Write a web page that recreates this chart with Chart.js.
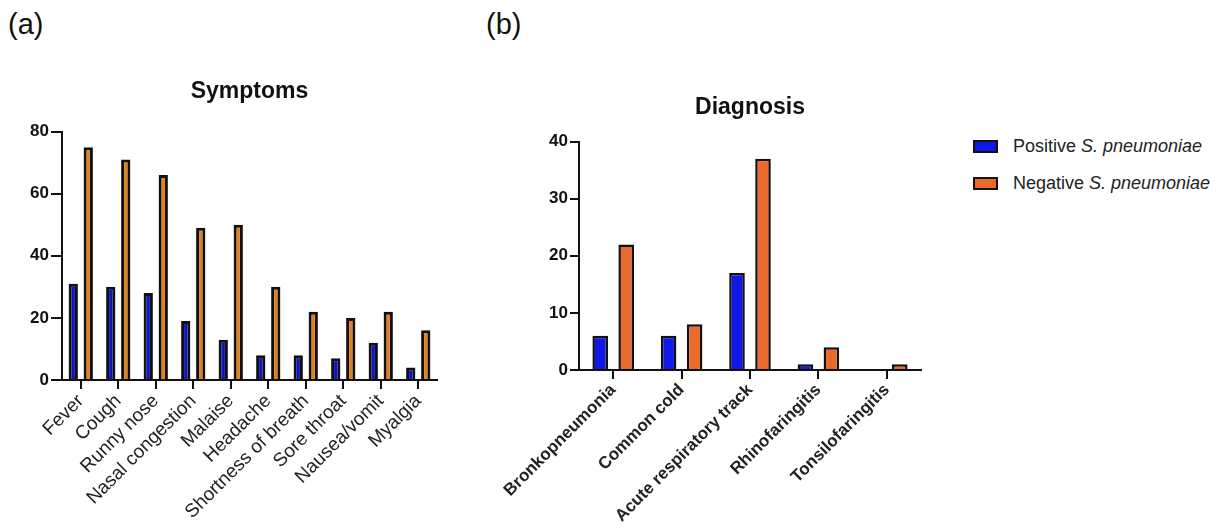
<!DOCTYPE html>
<html>
<head>
<meta charset="utf-8">
<script src="https://cdn.jsdelivr.net/npm/chart.js@4/dist/chart.umd.min.js"></script>
<style>
  body { margin: 0; background: #fff; font-family: "Liberation Sans", Arial, sans-serif; }
  #wrap { position: relative; width: 1228px; height: 528px; }
  .tag { position: absolute; top: 8px; font-size: 29px; color: #111; }
  #c1 { position: absolute; left: 0; top: 0; }
  #c2 { position: absolute; left: 470px; top: 0; }
  #legend { position: absolute; left: 973px; top: 128px; font-size: 18px; color: #222; }
  .row { height: 37px; display: flex; align-items: center; }
  .box { width: 21px; height: 9px; border: 2px solid #111; margin-right: 15px; }
</style>
</head>
<body>
<div id="wrap">
  <div class="tag" style="left:8px">(a)</div>
  <div class="tag" style="left:486px">(b)</div>
  <canvas id="c1" width="470" height="528"></canvas>
  <canvas id="c2" width="470" height="528"></canvas>
  <div id="legend">
    <div class="row"><div class="box" style="background:#1018e6"></div>Positive&nbsp;<i>S. pneumoniae</i></div>
    <div class="row"><div class="box" style="background:#ea6a2c"></div>Negative&nbsp;<i>S. pneumoniae</i></div>
  </div>
</div>
<script>
// symptoms (a)
const symptoms = ["Fever", "Cough", "Runny nose", "Nasal congestion", "Malaise",
  "Headache", "Shortness of breath", "Sore throat", "Nausea/vomit", "Myalgia"];
const sym_pos = [31, 30, 28, 19, 13, 8, 8, 7, 12, 4];
const sym_neg = [75, 71, 66, 49, 50, 30, 22, 20, 22, 16];
const sym_ticks = [0, 20, 40, 60, 80];

// diagnosis (b)
const diagnoses = ["Bronkopneumonia", "Common cold", "Acute respiratory track",
  "Rhinofaringitis", "Tonsilofaringitis"];
const diag_pos = [6, 6, 17, 1, 0];
const diag_neg = [22, 8, 37, 4, 1];
const diag_ticks = [0, 10, 20, 30, 40];

const font = "'Liberation Sans', Arial, sans-serif";
Chart.defaults.font.family = font;
Chart.defaults.color = "#222";
Chart.defaults.animation = false;

function make(canvas, o) {
  return new Chart(canvas.getContext("2d"), {
    type: "bar",
    data: {
      labels: o.labels,
      datasets: [
        { data: o.pos, backgroundColor: o.blue, borderColor: "#111", borderWidth: o.bw,
          borderSkipped: "start", barPercentage: o.bp, categoryPercentage: o.cp },
        { data: o.neg, backgroundColor: o.orange, borderColor: "#111", borderWidth: o.bw,
          borderSkipped: "start", barPercentage: o.bp, categoryPercentage: o.cp }
      ]
    },
    options: {
      responsive: false,
      layout: { padding: o.pad },
      plugins: {
        legend: { display: false },
        tooltip: { enabled: false },
        title: {
          display: true, text: o.title, fullSize: false, color: "#111",
          font: { size: 23, weight: "bold" }, padding: o.tpad
        }
      },
      scales: {
        x: {
          afterFit: s => { s.height = o.xh; },
          border: { color: "#111", width: 2, dash: o.dash },
          grid: { display: true, offset: false, drawOnChartArea: false, color: "#111",
            lineWidth: 2, tickLength: 9 },
          ticks: { minRotation: 45, maxRotation: 45, autoSkip: false, padding: 1,
            color: "#222", font: { size: o.xfs, weight: o.xfw } }
        },
        y: {
          min: 0, max: o.ticks[o.ticks.length - 1],
          afterFit: s => { s.width = o.yw; },
          afterBuildTicks: s => { s.ticks = o.ticks.map(v => ({ value: v })); },
          border: { color: "#111", width: 2 },
          grid: { drawOnChartArea: false, color: "#111", lineWidth: 2, tickLength: o.ytl },
          ticks: { padding: 2, color: "#111", font: { size: 17, weight: "bold" } }
        }
      }
    }
  });
}

make(document.getElementById("c1"), {
  labels: symptoms, pos: sym_pos, neg: sym_neg, ticks: sym_ticks, title: "Symptoms",
  blue: "#0c14c4", orange: "#e0821c", bw: 3, bp: 0.62, cp: 0.8,
  pad: { left: 0, right: 33, top: 0, bottom: 0 }, tpad: { top: 78, bottom: 26 },
  xh: 148, yw: 62, ytl: 11, dash: [2, 2], xfs: 19, xfw: "normal"
});

make(document.getElementById("c2"), {
  labels: diagnoses, pos: diag_pos, neg: diag_neg, ticks: diag_ticks, title: "Diagnosis",
  blue: "#1018e6", orange: "#ea6a2c", bw: 2.5, bp: 0.6, cp: 0.76,
  pad: { left: 60, right: 19, top: 0, bottom: 0 }, tpad: { top: 94, bottom: 20 },
  xh: 158, yw: 49, ytl: 9, dash: [], xfs: 17, xfw: "bold"
});
</script>
</body>
</html>
